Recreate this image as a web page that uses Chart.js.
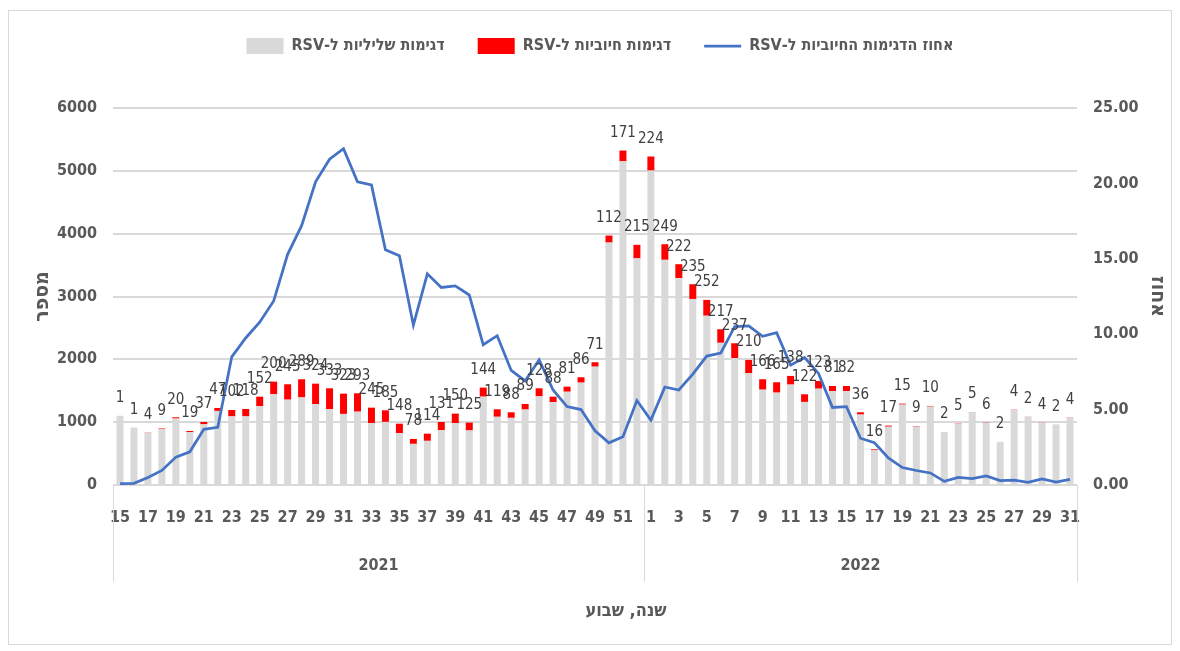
<!DOCTYPE html>
<html lang="he">
<head>
<meta charset="utf-8">
<title>RSV</title>
<script src="https://cdn.jsdelivr.net/npm/chart.js@4.4.1/dist/chart.umd.min.js"></script>
<style>
  html, body { margin: 0; padding: 0; background: #fff; }
  #wrap { position: relative; width: 1180px; height: 651px; }
  #frame { position: absolute; left: 8px; top: 10px; width: 1162px; height: 633px; border: 1px solid #d9d9d9; }
  canvas { position: absolute; left: 0; top: 0; }
</style>
</head>
<body>
<div id="wrap">
  <div id="frame"></div>
  <canvas id="rsvChart" width="1180" height="651"></canvas>
</div>
<script>
const FONT = "'Liberation Sans Narrow', 'Arial Narrow', 'DejaVu Sans Condensed', 'Liberation Sans', sans-serif";

// weeks 15-52 of 2021, then 1-31 of 2022
const weeks = [15, 16, 17, 18, 19, 20, 21, 22, 23, 24, 25, 26, 27, 28, 29, 30, 31, 32, 33,
  34, 35, 36, 37, 38, 39, 40, 41, 42, 43, 44, 45, 46, 47, 48, 49, 50, 51, 52,
  1, 2, 3, 4, 5, 6, 7, 8, 9, 10, 11, 12, 13, 14, 15, 16, 17, 18, 19, 20, 21, 22,
  23, 24, 25, 26, 27, 28, 29, 30, 31];
const years = ["2021", "2022"];
const yearBreak = 38; // first index of 2022

const negatives = [1098, 911, 829, 893, 1058, 841, 966, 1179, 1092, 1092, 1254, 1445, 1358,
  1394, 1289, 1206, 1131, 1167, 986, 1004, 828, 655, 703, 872, 986, 868, 1406, 1086, 1069,
  1201, 1411, 1318, 1484, 1629, 1883, 3858, 5152, 3607,
  5004, 3583, 3292, 2961, 2694, 2262, 2019, 1780, 1517, 1470, 1598, 1322, 1533, 1495, 1494,
  1121, 552, 928, 1280, 930, 1248, 842, 971, 1157, 992, 683, 1195, 1086, 994, 959, 1068];

const positives = [1, 1, 4, 9, 20, 19, 37, 47, 102, 118, 152, 200, 245, 289, 324, 333, 323,
  293, 245, 185, 148, 78, 114, 131, 150, 125, 144, 119, 88, 89, 128, 88, 81, 86, 71, 112,
  171, 215,
  224, 249, 222, 235, 252, 217, 237, 210, 166, 165, 138, 122, 123, 81, 82, 36, 16, 17, 15,
  9, 10, 2, 5, 5, 6, 2, 4, 2, 4, 2, 4];

const percent = [0.09, 0.11, 0.5, 0.97, 1.85, 2.2, 3.69, 3.83, 8.5, 9.75, 10.8, 12.2, 15.3,
  17.2, 20.1, 21.6, 22.3, 20.1, 19.9, 15.6, 15.2, 10.6, 14.0, 13.1, 13.2, 12.6, 9.3, 9.9,
  7.6, 6.9, 8.3, 6.3, 5.2, 5.0, 3.6, 2.8, 3.2, 5.6,
  4.3, 6.5, 6.3, 7.35, 8.55, 8.75, 10.5, 10.55, 9.86, 10.1, 7.95, 8.45, 7.4, 5.14, 5.2, 3.1,
  2.8, 1.8, 1.16, 0.96, 0.8, 0.24, 0.5, 0.43, 0.6, 0.29, 0.33, 0.18, 0.4, 0.2, 0.37];

const countTicks = [0, 1000, 2000, 3000, 4000, 5000, 6000];
const percentTicks = [0, 5, 10, 15, 20, 25];

const seriesNames = ["דגימות שליליות ל-RSV", "דגימות חיוביות ל-RSV", "אחוז הדגימות החיוביות ל-RSV"];
const xTitle = "שנה, שבוע";
const yTitle = "מספר";
const y1Title = "אחוז";

const axisColor = "#595959";

// keeps mixed hebrew / latin legend text in right-to-left order
const rtlText = (s) => "\u202B" + s + "\u202C";

// positive counts above the bars, year row and axis title under the weeks
const extrasPlugin = {
  id: "extras",
  beforeInit(chart) {
    const fit = chart.legend.fit;
    chart.legend.fit = function () {
      fit.call(this);
      this.height = 103;
    };
  },
  afterDatasetsDraw(chart) {
    const ctx = chart.ctx;
    const meta = chart.getDatasetMeta(1);
    ctx.save();
    ctx.font = "15px " + FONT;
    ctx.fillStyle = "#404040";
    ctx.textAlign = "center";
    ctx.textBaseline = "bottom";
    meta.data.forEach((bar, i) => {
      ctx.fillText(String(positives[i]), bar.x, bar.y - 10);
    });
    ctx.restore();
  },
  afterDraw(chart) {
    const { ctx, chartArea } = chart;
    const x = chart.scales.x;
    const mid = (x.getPixelForValue(yearBreak - 1) + x.getPixelForValue(yearBreak)) / 2;
    const top = chartArea.bottom;
    ctx.save();
    ctx.strokeStyle = "#d9d9d9";
    ctx.lineWidth = 1;
    [chartArea.left, mid, chartArea.right].forEach((px) => {
      const xx = Math.round(px) + 0.5;
      ctx.beginPath();
      ctx.moveTo(xx, top);
      ctx.lineTo(xx, top + 97);
      ctx.stroke();
    });
    ctx.fillStyle = axisColor;
    ctx.textAlign = "center";
    ctx.textBaseline = "middle";
    ctx.font = "bold 16px " + FONT;
    ctx.fillText(years[0], (chartArea.left + mid) / 2, top + 81);
    ctx.fillText(years[1], (mid + chartArea.right) / 2, top + 81);
    ctx.font = "bold 18px " + FONT;
    ctx.fillText(xTitle, (chartArea.left + chartArea.right) / 2 + 31, top + 126);
    ctx.restore();
  },
};

const ctx = document.getElementById("rsvChart").getContext("2d");
new Chart(ctx, {
  data: {
    labels: weeks,
    datasets: [
      {
        type: "bar",
        label: seriesNames[0],
        data: negatives,
        backgroundColor: "#d9d9d9",
        borderWidth: 0,
        yAxisID: "y",
        stack: "rsv",
        order: 1,
        barPercentage: 0.5,
        categoryPercentage: 1,
      },
      {
        type: "bar",
        label: seriesNames[1],
        data: positives,
        backgroundColor: "#ff0000",
        borderWidth: 0,
        yAxisID: "y",
        stack: "rsv",
        order: 1,
        barPercentage: 0.5,
        categoryPercentage: 1,
      },
      {
        type: "line",
        label: seriesNames[2],
        data: percent,
        borderColor: "#4472c4",
        backgroundColor: "#4472c4",
        borderWidth: 2.75,
        pointRadius: 0,
        tension: 0,
        yAxisID: "y1",
        order: 0,
      },
    ],
  },
  options: {
    responsive: false,
    animation: false,
    layout: { padding: { top: 5, left: 20, right: 0, bottom: 0 } },
    plugins: {
      tooltip: { enabled: false },
      legend: {
        position: "top",
        labels: {
          color: axisColor,
          font: { family: FONT, size: 16, weight: "bold" },
          usePointStyle: true,
          pointStyleWidth: 37,
          boxHeight: 16,
          padding: 33,
          generateLabels(chart) {
            const items = Chart.defaults.plugins.legend.labels.generateLabels(chart);
            items.forEach((it) => {
              it.pointStyle = it.datasetIndex === 2 ? "line" : "rect";
              it.text = rtlText(it.text);
            });
            return items.sort((a, b) => a.datasetIndex - b.datasetIndex);
          },
        },
      },
    },
    scales: {
      x: {
        stacked: true,
        offset: true,
        grid: { display: false, drawTicks: false },
        border: { display: true, color: "#d9d9d9", width: 1 },
        ticks: {
          autoSkip: false,
          maxRotation: 0,
          padding: 23,
          color: axisColor,
          font: { family: FONT, size: 16, weight: "bold" },
          callback(value, index) {
            return index % 2 === 0 ? weeks[index] : "";
          },
        },
        afterFit(scale) {
          scale.height = 166;
        },
      },
      y: {
        type: "linear",
        position: "left",
        stacked: true,
        min: 0,
        max: 6000,
        afterBuildTicks(scale) {
          scale.ticks = countTicks.map((v) => ({ value: v }));
        },
        grid: { color: "#d9d9d9", lineWidth: 2, drawTicks: false },
        border: { display: false },
        ticks: {
          padding: 16,
          color: axisColor,
          font: { family: FONT, size: 16, weight: "bold" },
          callback: (v) => String(v),
        },
        title: {
          display: true,
          text: yTitle,
          color: axisColor,
          font: { family: FONT, size: 21, weight: "bold" },
          padding: { top: 10, bottom: 0 },
        },
        afterFit(scale) {
          scale.width = 93;
        },
      },
      y1: {
        type: "linear",
        position: "right",
        min: 0,
        max: 25,
        afterBuildTicks(scale) {
          scale.ticks = percentTicks.map((v) => ({ value: v }));
        },
        grid: { display: false, drawTicks: false },
        border: { display: false },
        ticks: {
          padding: 16,
          color: axisColor,
          font: { family: FONT, size: 16, weight: "bold" },
          callback: (v) => v.toFixed(2),
        },
        title: {
          display: true,
          text: y1Title,
          color: axisColor,
          font: { family: FONT, size: 21, weight: "bold" },
          padding: { top: 10, bottom: 10 },
        },
        afterFit(scale) {
          scale.width = 103;
        },
      },
    },
  },
  plugins: [extrasPlugin],
});
</script>
</body>
</html>
